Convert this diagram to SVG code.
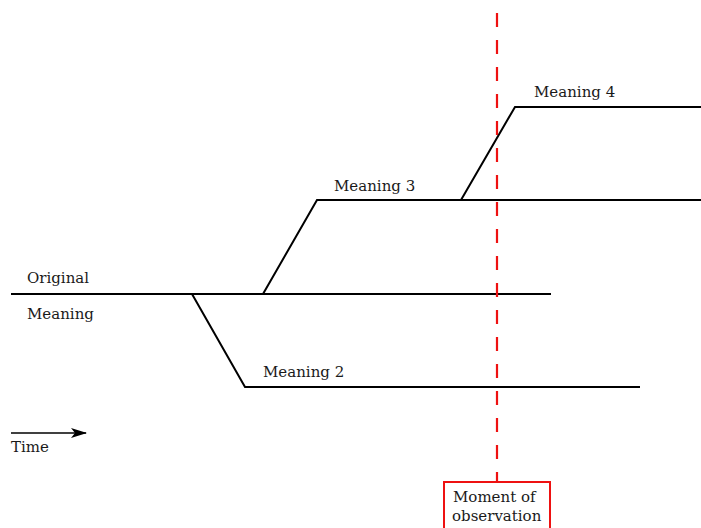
<svg xmlns="http://www.w3.org/2000/svg" width="701" height="528" viewBox="0 0 701 528">
<style>
.ln{fill:none;stroke:#000;stroke-width:2}
.t{font-family:"DejaVu Serif","Liberation Serif",serif;font-size:15px;fill:#1a1a1a}
.obs{fill:none;stroke:#ee1111;stroke-width:2.2;stroke-dasharray:14,13}
</style>
<defs>
<marker id="ah" markerWidth="16" markerHeight="10" refX="15" refY="5" orient="auto" markerUnits="userSpaceOnUse">
<path d="M0,0 L16,5 L0,10 L4,5 Z" fill="#000"/>
</marker>
</defs>
<rect width="701" height="528" fill="#fff"/>
<g id="connectors">
<path id="original" class="ln" d="M11,294 H551"/>
<path id="m2" class="ln" d="M192,294 L245,387 H640"/>
<path id="m3" class="ln" d="M263,294 L317,200 H701"/>
<path id="m4" class="ln" d="M461,200 L515,107 H701"/>
<path id="obsline" class="obs" d="M497,13 V482"/>
<path id="timearrow" class="ln" d="M11,433 H86" marker-end="url(#ah)" style="stroke-width:1.3"/>
</g>
<g id="label-original">
<text class="t" x="27" y="283">Original</text>
<text class="t" x="27" y="319">Meaning</text>
</g>
<g id="label-m2"><text class="t" x="263" y="377">Meaning 2</text></g>
<g id="label-m3"><text class="t" x="334" y="191">Meaning 3</text></g>
<g id="label-m4"><text class="t" x="534" y="97">Meaning 4</text></g>
<g id="label-time"><text class="t" x="11" y="452">Time</text></g>
<g id="moment">
<rect x="444" y="482" width="106" height="50" fill="#fff" stroke="#ee1111" stroke-width="2"/>
<text class="t" x="453" y="502">Moment of</text>
<text class="t" x="452" y="521">observation</text>
</g>
</svg>
